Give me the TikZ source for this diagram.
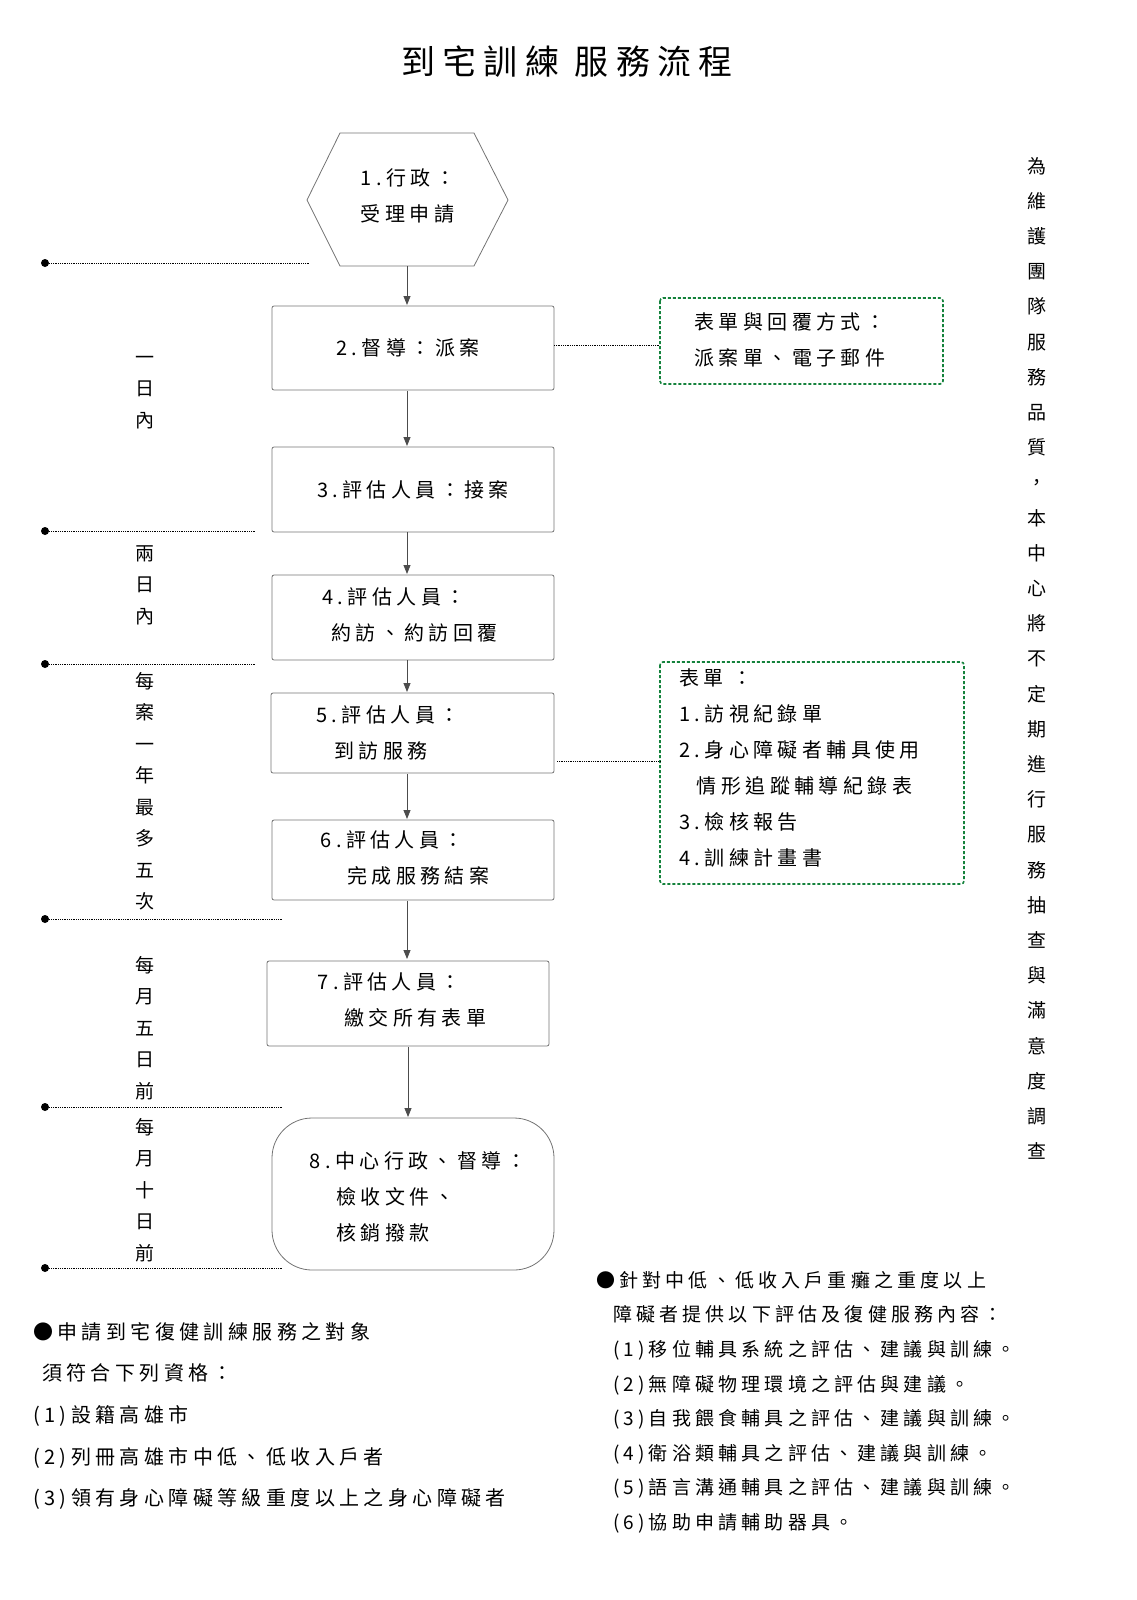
\documentclass[tikz,border=0pt]{standalone}
\usepackage{fontspec}
\setmainfont{Noto Sans CJK TC}[LetterSpace=22]
\usetikzlibrary{arrows.meta}
\definecolor{grn}{RGB}{20,130,60}
\tikzset{
 stepbox/.style={draw=black!55, rounded corners=2pt, line width=0.8pt},
 txt/.style={font=\fontsize{20}{36}\selectfont, align=left, inner sep=0pt},
 vtxt/.style={font=\fontsize{19}{31.5}\selectfont, align=center, inner sep=0pt, anchor=north},
 arr/.style={-{Triangle[length=9pt,width=7pt]}, line width=0.8pt, black!70},
 dline/.style={densely dotted, line width=0.8pt},
 gbox/.style={draw=grn, dash pattern=on 3pt off 2pt, line width=1.6pt, rounded corners=3pt},
 dotn/.style={circle, fill=black, inner sep=0pt, minimum size=8pt},
}
\begin{document}
\begin{tikzpicture}[x=1pt,y=-1pt]
\useasboundingbox (0,0) rectangle (1136,1600);
\node[font=\fontsize{34}{40}\selectfont] (title) at (567,62) {到宅訓練\ 服務流程};
% hexagon
\draw[black!55, line width=0.8pt] (307,200) -- (340,133) -- (474,133) -- (508,200) -- (474,266) -- (340,266) -- cycle;
\coordinate (h1) at (407,266);
\node[txt] (t1) at (408,196) {1.行政：\\受理申請};
% boxes
\draw[stepbox] (272,306) rectangle (554,390); \coordinate (b2t) at (407,305); \coordinate (b2b) at (407,391); \coordinate (b2r) at (554,345);
\node[txt] (t2) at (408,348) {2.督導：派案};
\draw[stepbox] (272,447) rectangle (554,532); \coordinate (b3t) at (407,446); \coordinate (b3b) at (407,532);
\node[txt] (t3) at (413,490) {3.評估人員：接案};
\draw[stepbox] (272,575) rectangle (554,660); \coordinate (b4t) at (407,574); \coordinate (b4b) at (407,660);
\node[txt] (t4) at (410,615) {4.評估人員：\\\ 約訪、約訪回覆};
\draw[stepbox] (271,693) rectangle (554,773); \coordinate (b5t) at (407,692); \coordinate (b5b) at (407,774); \coordinate (b5r) at (557,761);
\node[txt] (t5) at (388,733) {5.評估人員：\\\ \ 到訪服務};
\draw[stepbox] (272,820) rectangle (554,900); \coordinate (b6t) at (407,819); \coordinate (b6b) at (407,900);
\node[txt] (t6) at (405,858) {6.評估人員：\\\ \ \ 完成服務結案};
\draw[stepbox] (267,961) rectangle (549,1046); \coordinate (b7t) at (407,960); \coordinate (b7b) at (408,1047);
\node[txt] (t7) at (402,1000) {7.評估人員：\\\ \ \ 繳交所有表單};
\draw[black!55, line width=0.8pt, rounded corners=40pt] (272,1118) rectangle (554,1270); \coordinate (b8t) at (408,1117);
\node[txt] (t8) at (418,1197) {8.中心行政、督導：\\\ \ \ 檢收文件、\\\ \ \ 核銷撥款};
% arrows
\draw[arr] (h1) -- (b2t);
\draw[arr] (b2b) -- (b3t);
\draw[arr] (b3b) -- (b4t);
\draw[arr] (b4b) -- (b5t);
\draw[arr] (b5b) -- (b6t);
\draw[arr] (b6b.east) ++(0,0) coordinate (x6) (407,901) -- (407,959);
\draw[arr] (b7b) -- (b8t);
% green boxes
\draw[gbox] (660,298) rectangle (943,384); \coordinate (g1) at (660,345);
\node[txt] (gt1) at (790,340) {表單與回覆方式：\\派案單、電子郵件};
\draw[dline] (b2r) -- (g1);
\draw[gbox] (660,662) rectangle (964,884); \coordinate (g2) at (660,761);
\node[txt, anchor=north west] (gt2) at (679,668) {表單\ ：\\1.訪視紀錄單\\2.身心障礙者輔具使用\\\ \ 情形追蹤輔導紀錄表\\3.檢核報告\\4.訓練計畫書};
\draw[dline] (b5r) -- (g2);
% left dotted lines
\foreach \yy/\xe/\nm in {263/310/a, 531/255/b, 664/255/c, 919/283/d, 1107/283/e, 1268/283/f}{
 \node[dotn] (dot\nm) at (45,\yy) {};
 \coordinate (end\nm) at (\xe,\yy);
 \draw[dline] (dot\nm) -- (end\nm);
}
% left vertical texts
\node[vtxt] (v1) at (145,356) {一\\日\\內};
\node[vtxt] (v2) at (145,545) {兩\\日\\內};
\node[vtxt] (v3) at (145,672) {每\\案\\一\\年\\最\\多\\五\\次};
\node[vtxt] (v4) at (145,956) {每\\月\\五\\日\\前};
\node[vtxt] (v5) at (145,1118) {每\\月\\十\\日\\前};
% right vertical text
\node[vtxt, font=\fontsize{19}{35.2}\selectfont] (vr) at (1037,157) {為\\維\\護\\團\\隊\\服\\務\\品\\質\\，\\本\\中\\心\\將\\不\\定\\期\\進\\行\\服\\務\\抽\\查\\與\\滿\\意\\度\\調\\查};
% bottom left
\node[txt, font=\fontsize{20}{41.7}\selectfont, anchor=north west] (bl) at (33,1322) {●申請到宅復健訓練服務之對象\\\ 須符合下列資格：\\(1)設籍高雄市\\(2)列冊高雄市中低、低收入戶者\\(3)領有身心障礙等級重度以上之身心障礙者};
% bottom right
\node[txt, font=\fontsize{19}{34.6}\selectfont, anchor=north west] (br) at (596,1271) {●針對中低、低收入戶重癱之重度以上\\\ \ 障礙者提供以下評估及復健服務內容：\\\ \ (1)移位輔具系統之評估、建議與訓練。\\\ \ (2)無障礙物理環境之評估與建議。\\\ \ (3)自我餵食輔具之評估、建議與訓練。\\\ \ (4)衛浴類輔具之評估、建議與訓練。\\\ \ (5)語言溝通輔具之評估、建議與訓練。\\\ \ (6)協助申請輔助器具。};
\end{tikzpicture}
\end{document}
